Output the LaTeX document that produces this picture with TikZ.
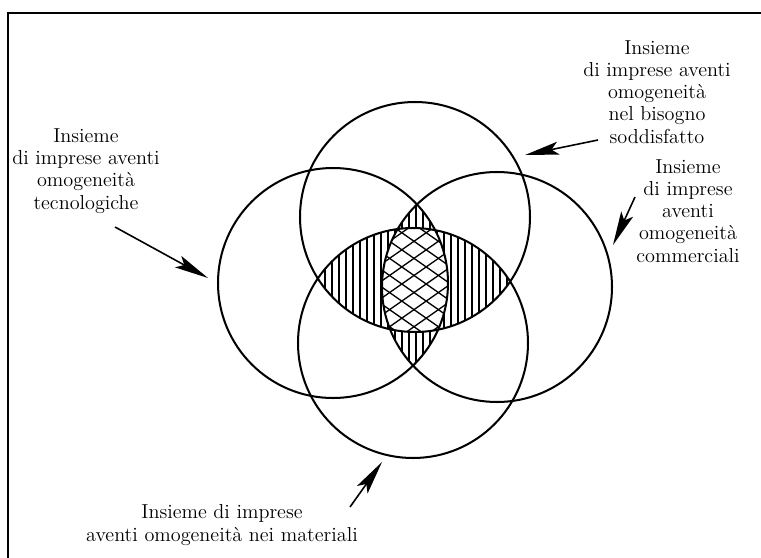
\documentclass[tikz,border=0pt]{standalone}
\usepackage{fontspec}
\usepackage{tikz}
\usetikzlibrary{arrows.meta, calc}

\tikzset{
    ring/.style={line width=1.15pt},
    hatch/.style={line width=0.75pt},
    pointer/.style={-{Stealth[length=6.8mm, width=2.6mm, inset=1.4mm]}, line width=0.9pt},
    caption/.style={align=center, inner sep=0pt, font=\fontsize{11.5}{12.6}\selectfont}
}

\begin{document}
\begin{tikzpicture}[x=0.02cm, y=-0.02cm]
    \useasboundingbox (0,0) rectangle (761,558);

    % Frame (top and left edge only)
    \draw[line width=1pt] (8,558) -- (8,13) -- (761,13);

    % Centres of the four sets
    \coordinate (bis) at (415,217);
    \coordinate (mat) at (413,343);
    \coordinate (tec) at (333,283);
    \coordinate (com) at (497,287);
    \coordinate (mid) at (414,284);

    % Vertical hatching: the two lenses
    \begin{scope}
        \clip (bis) circle (115);
        \clip (mat) circle (115);
        \foreach \x in {297,304,...,535}
            \draw[hatch] (\x,150) -- (\x,420);
    \end{scope}
    \begin{scope}
        \clip (tec) circle (115);
        \clip (com) circle (115);
        \foreach \x in {297,304,...,535}
            \draw[hatch] (\x,150) -- (\x,420);
    \end{scope}

    % Cross hatching: common part of all four
    \begin{scope}
        \clip (bis) circle (115);
        \clip (mat) circle (115);
        \clip (tec) circle (115);
        \clip (com) circle (115);
        \fill[white] (300,150) rectangle (530,420);
        \begin{scope}[shift={(mid)}, rotate=35]
            \foreach \k in {-133,-119,...,133}
                \draw[hatch] (-160,\k) -- (160,\k);
        \end{scope}
        \begin{scope}[shift={(mid)}, rotate=-35]
            \foreach \k in {-133,-119,...,133}
                \draw[hatch] (-160,\k) -- (160,\k);
        \end{scope}
    \end{scope}

    % Circles
    \draw[ring] (bis) circle (115);
    \draw[ring] (mat) circle (115);
    \draw[ring] (tec) circle (115);
    \draw[ring] (com) circle (115);

    % Labels
    \node[caption] (lbis) at (657,92) {Insieme\\di imprese aventi\\omogeneità\\nel bisogno\\soddisfatto};
    \node[caption] (lcom) at (688,211) {Insieme\\di imprese\\aventi\\omogeneità\\commerciali};
    \node[caption] (ltec) at (86,171) {Insieme\\di imprese aventi\\omogeneità\\tecnologiche};
    \node[caption] (lmat) at (222,525) {Insieme di imprese\\aventi omogeneità nei materiali};

    % Arrow ends
    \coordinate (tbis) at (598,140);
    \coordinate (hbis) at (525,155);
    \coordinate (tcom) at (635,197);
    \coordinate (hcom) at (613,245);
    \coordinate (ttec) at (115,227);
    \coordinate (htec) at (208,278);
    \coordinate (tmat) at (350,507);
    \coordinate (hmat) at (382,462);

    \draw[pointer] (tbis) -- (hbis);
    \draw[pointer] (tcom) -- (hcom);
    \draw[pointer] (ttec) -- (htec);
    \draw[pointer] (tmat) -- (hmat);
\end{tikzpicture}
\end{document}
